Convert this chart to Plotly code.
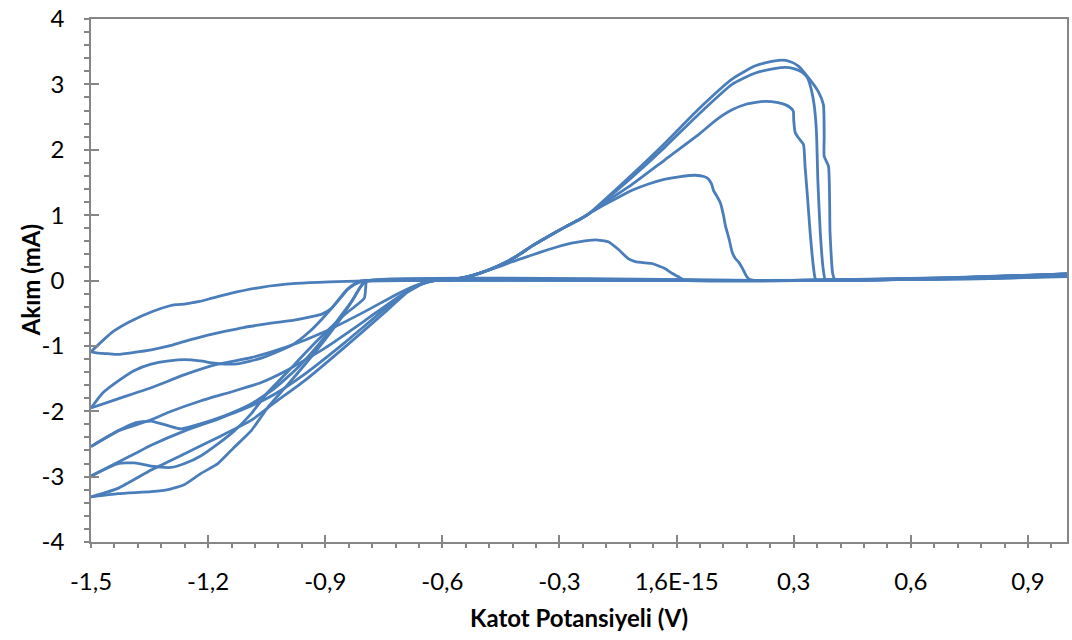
import plotly.graph_objects as go

# ---------------- data ----------------
x_tick_vals = [-1.5, -1.2, -0.9, -0.6, -0.3, 0.0, 0.3, 0.6, 0.9]
x_tick_text = ["-1,5", "-1,2", "-0,9", "-0,6", "-0,3", "1,6E-15", "0,3", "0,6", "0,9"]
y_tick_vals = [-4, -3, -2, -1, 0, 1, 2, 3, 4]
y_tick_text = ["-4", "-3", "-2", "-1", "0", "1", "2", "3", "4"]
x_title = "Katot Potansiyeli (V)"
y_title = "Akım (mA)"

# shared anodic rise of cycles 2-5
rise_v = [-0.62, -0.58, -0.54, -0.50, -0.455, -0.41, -0.37, -0.33, -0.285, -0.25, -0.225]
rise_i = [0.0, 0.01, 0.05, 0.12, 0.23, 0.37, 0.53, 0.67, 0.82, 0.93, 1.02]

# cycle 1
f1_v = [-1.5, -1.48, -1.457, -1.431, -1.39, -1.346, -1.30, -1.26, -1.21, -1.158, -1.11, -1.068, -1.035,
        -0.983, -0.932, -0.907, -0.885, -0.87, -0.857, -0.845, -0.835, -0.825, -0.813, -0.80, -0.78,
        0.0, 0.4, 0.7, 1.0]
f1_i = [-1.09, -1.11, -1.12, -1.13, -1.10, -1.06, -1.00, -0.93, -0.85, -0.78, -0.72, -0.68, -0.65,
        -0.61, -0.55, -0.51, -0.43, -0.33, -0.24, -0.15, -0.10, -0.06, -0.03, -0.01, 0.0,
        0.0, 0.005, 0.04, 0.10]
r1_v = [-1.5, -1.47, -1.443, -1.401, -1.341, -1.30, -1.282, -1.26, -1.24, -1.222, -1.19, -1.145, -1.06,
        -0.975, -0.89, -0.80, -0.70, -0.62, -0.58, -0.54, -0.50, -0.455, -0.43, -0.37, -0.33, -0.285,
        -0.25, -0.208, -0.174, -0.148, -0.123, -0.106, -0.08, -0.063, -0.045, -0.029, -0.012, 0.005,
        0.02, 0.5, 0.8, 1.0]
r1_i = [-1.09, -0.92, -0.78, -0.63, -0.47, -0.39, -0.37, -0.36, -0.34, -0.32, -0.27, -0.20, -0.10,
        -0.045, -0.02, -0.008, -0.002, 0.0, 0.01, 0.05, 0.12, 0.21, 0.27, 0.39, 0.47, 0.55,
        0.59, 0.62, 0.59, 0.47, 0.33, 0.29, 0.27, 0.26, 0.22, 0.18, 0.11, 0.056,
        0.005, 0.01, 0.03, 0.06]

# cycle 2
f2_v = [-1.5, -1.47, -1.431, -1.39, -1.346, -1.30, -1.26, -1.22, -1.19, -1.15, -1.12, -1.09, -1.06,
        -1.03, -0.983, -0.94, -0.907, -0.88, -0.86, -0.845, -0.83, -0.815, -0.80, 0.3, 0.7, 1.0]
f2_i = [-1.95, -1.72, -1.54, -1.38, -1.28, -1.23, -1.21, -1.23, -1.26, -1.28, -1.27, -1.23, -1.18,
        -1.11, -0.98, -0.78, -0.58, -0.40, -0.25, -0.14, -0.07, -0.02, 0.0, 0.0, 0.03, 0.09]
r2_v = [-1.5, -1.431, -1.346, -1.26, -1.175, -1.09, -1.0, -0.9, -0.8, -0.72, -0.67, -0.64] + rise_v + \
       [-0.2, -0.15, -0.114, -0.07, -0.029, 0.01, 0.048, 0.07, 0.082, 0.09, 0.095, 0.105, 0.112, 0.12,
        0.125, 0.135, 0.142, 0.15, 0.159, 0.17, 0.18, 0.19, 0.5, 0.8, 1.0]
r2_i = [-1.95, -1.81, -1.64, -1.44, -1.28, -1.18, -1.02, -0.78, -0.48, -0.22, -0.08, -0.02] + rise_i + \
       [1.11, 1.27, 1.38, 1.48, 1.55, 1.59, 1.61, 1.59, 1.55, 1.47, 1.37, 1.27, 1.19, 1.0,
        0.84, 0.62, 0.44, 0.34, 0.28, 0.17, 0.056, 0.01, 0.01, 0.03, 0.07]

# cycle 3
f3_v = [-1.5, -1.431, -1.388, -1.346, -1.303, -1.269, -1.218, -1.158, -1.09, -1.03, -0.97, -0.92,
        -0.87, -0.83, -0.81, -0.79, 0.3, 0.7, 1.0]
f3_i = [-2.54, -2.30, -2.18, -2.15, -2.22, -2.27, -2.19, -2.07, -1.89, -1.65, -1.33, -1.00,
        -0.62, -0.30, -0.10, 0.0, 0.0, 0.035, 0.10]
r3_v = [-1.5, -1.43, -1.346, -1.303, -1.218, -1.133, -1.064, -1.0, -0.9, -0.8, -0.72, -0.67, -0.64] + rise_v + \
       [-0.2, -0.182, -0.114, -0.029, 0.056, 0.10, 0.142, 0.18, 0.227, 0.26, 0.278, 0.292, 0.299, 0.30,
        0.304, 0.315, 0.325, 0.329, 0.335, 0.342, 0.35, 0.355, 0.36, 0.6, 0.8, 1.0]
r3_i = [-2.54, -2.30, -2.13, -2.02, -1.84, -1.69, -1.56, -1.38, -1.03, -0.62, -0.28, -0.10, -0.03] + rise_i + \
       [1.13, 1.20, 1.47, 1.85, 2.23, 2.45, 2.61, 2.70, 2.74, 2.72, 2.69, 2.64, 2.59, 2.45,
        2.26, 2.16, 2.08, 1.75, 1.30, 0.74, 0.23, 0.03, 0.005, 0.02, 0.04, 0.08]

# cycle 4
f4_v = [-1.5, -1.431, -1.388, -1.346, -1.295, -1.26, -1.218, -1.175, -1.133, -1.09, -1.047, -1.0,
        -0.95, -0.9, -0.85, -0.80, -0.795, -0.79, 0.3, 0.7, 1.0]
f4_i = [-2.99, -2.80, -2.79, -2.84, -2.86, -2.80, -2.68, -2.50, -2.30, -2.04, -1.71, -1.42,
        -1.10, -0.80, -0.52, -0.27, -0.03, 0.0, 0.0, 0.04, 0.09]
r4_v = [-1.5, -1.431, -1.388, -1.346, -1.26, -1.175, -1.09, -1.03, -0.95, -0.85, -0.75, -0.69, -0.65] + rise_v + \
       [-0.2, -0.114, -0.03, 0.056, 0.142, 0.2, 0.25, 0.278, 0.30, 0.32, 0.335, 0.342, 0.352, 0.358,
        0.362, 0.368, 0.375, 0.38, 0.385, 0.6, 0.8, 1.0]
r4_i = [-2.99, -2.78, -2.65, -2.52, -2.30, -2.12, -1.92, -1.74, -1.42, -0.95, -0.45, -0.17, -0.04] + rise_i + \
       [1.14, 1.58, 2.04, 2.54, 3.00, 3.17, 3.24, 3.26, 3.24, 3.19, 3.10, 2.99, 2.70, 2.30,
        1.50, 0.74, 0.20, 0.02, 0.005, 0.02, 0.04, 0.09]

# cycle 5
f5_v = [-1.5, -1.431, -1.346, -1.303, -1.26, -1.218, -1.175, -1.133, -1.09, -1.047, -1.0, -0.95,
        -0.9, -0.86, -0.83, -0.81, -0.80, -0.78, 0.3, 0.7, 1.0]
f5_i = [-3.31, -3.26, -3.23, -3.20, -3.12, -2.95, -2.80, -2.55, -2.30, -1.94, -1.62, -1.27,
        -0.90, -0.58, -0.30, -0.10, -0.02, 0.0, 0.0, 0.045, 0.10]
r5_v = [-1.5, -1.431, -1.346, -1.26, -1.175, -1.09, -1.03, -0.95, -0.85, -0.75, -0.69, -0.65] + rise_v + \
       [-0.2, -0.114, -0.03, 0.056, 0.142, 0.2, 0.227, 0.269, 0.29, 0.312, 0.338, 0.363, 0.376, 0.378,
        0.378, 0.389, 0.393, 0.40, 0.405, 0.41, 0.6, 0.8, 1.0]
r5_i = [-3.31, -3.18, -2.90, -2.65, -2.40, -2.14, -1.87, -1.52, -1.02, -0.50, -0.18, -0.05] + rise_i + \
       [1.15, 1.62, 2.10, 2.62, 3.08, 3.28, 3.33, 3.37, 3.35, 3.28, 3.10, 2.89, 2.69, 2.20,
        1.90, 1.75, 0.74, 0.10, 0.02, 0.005, 0.02, 0.05, 0.10]

branches = [(f1_v, f1_i), (r1_v, r1_i), (f2_v, f2_i), (r2_v, r2_i), (f3_v, f3_i), (r3_v, r3_i),
            (f4_v, f4_i), (r4_v, r4_i), (f5_v, f5_i), (r5_v, r5_i)]

# ---------------- figure ----------------
LINE = "rgb(74,126,187)"
AXIS = "rgb(134,134,134)"
FONT = "Lato"

fig = go.Figure()
for v, i in branches:
    fig.add_trace(go.Scatter(x=v, y=i, mode="lines",
                             line=dict(color=LINE, width=2.8, shape="spline", smoothing=0.5),
                             showlegend=False, hoverinfo="skip"))

fig.update_layout(
    width=1072, height=640,
    margin=dict(l=91, r=3, t=15, b=98),
    paper_bgcolor="white", plot_bgcolor="white",
    font=dict(family=FONT, size=24, color="black"),
    xaxis=dict(range=[-1.5, 1.0], showgrid=False, zeroline=False,
               showline=True, linecolor=AXIS, linewidth=1.5, mirror=True,
               ticks="inside", ticklen=7, tickwidth=1.5, tickcolor=AXIS,
               tickvals=x_tick_vals, ticktext=x_tick_text, ticklabelstandoff=17,
               ticklabeloverflow="allow"),
    yaxis=dict(range=[-4, 4], showgrid=False, zeroline=False,
               showline=True, linecolor=AXIS, linewidth=1.5, mirror=True,
               ticks="inside", ticklen=8, tickwidth=1.5, tickcolor=AXIS,
               tickvals=y_tick_vals, ticktext=y_tick_text, ticklabelstandoff=20,
               ticklabeloverflow="allow"),
    xaxis2=dict(overlaying="x", anchor="y", side="bottom", range=[-1.5, 1.0],
                showgrid=False, zeroline=False, showline=False, showticklabels=False,
                ticks="outside", ticklen=5, tickwidth=1.5, tickcolor=AXIS,
                tick0=-1.5, dtick=0.06),
    yaxis2=dict(overlaying="y", anchor="x", side="left", range=[-4, 4],
                showgrid=False, zeroline=False, showline=False, showticklabels=False,
                ticks="outside", ticklen=6, tickwidth=1.5, tickcolor=AXIS,
                tick0=-4, dtick=0.2),
    annotations=[
        dict(text="<b>%s</b>" % x_title, xref="paper", yref="paper", x=0.5, y=-0.1436,
             xanchor="center", yanchor="middle", showarrow=False, font=dict(size=24)),
        dict(text="<b>%s</b>" % y_title, xref="paper", yref="paper", x=-0.0617, y=0.5,
             xanchor="center", yanchor="middle", textangle=-90, showarrow=False,
             font=dict(size=24)),
    ],
)
# invisible trace so the overlay axes are drawn
fig.add_trace(go.Scatter(x=[None], y=[None], xaxis="x2", yaxis="y2", showlegend=False,
                         hoverinfo="skip"))

fig.write_html("out.html")
